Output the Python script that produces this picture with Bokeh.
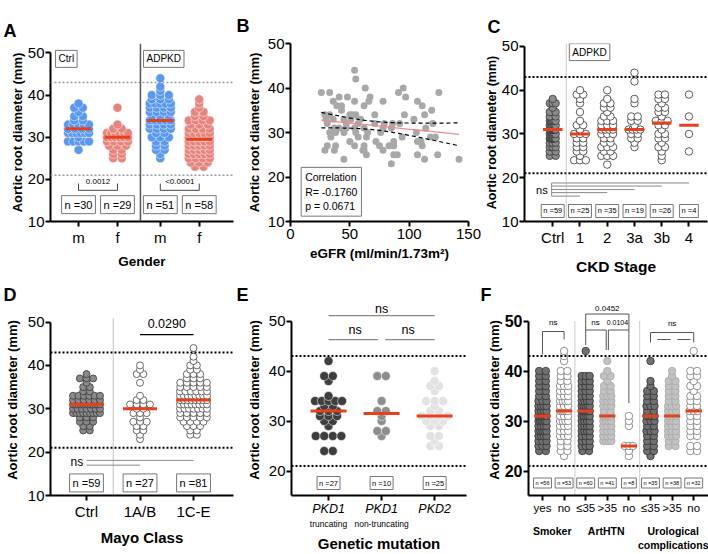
import numpy as np
from collections import Counter
from bokeh.plotting import figure
from bokeh.models import FixedTicker, Label, Span, Title, LinearAxis
from bokeh.layouts import row, column
from bokeh.embed import file_html
from bokeh.resources import INLINE

FONT = "Liberation Sans"
RED = "#e8401c"

# ======================= DATA =======================
# Aortic root diameter (mm) -> number of subjects
# Panel A (Gender)
a_ticks = ["m", "f", "m", "f"]
a_ctrl_m = {38: 1, 37: 2, 36: 1, 35: 2, 34: 2, 33: 5, 32: 4, 31: 6, 30: 1, 29: 5, 27: 1}
a_ctrl_f = {37: 1, 33: 1, 32: 2, 31: 6, 30: 6, 29: 4, 28: 3, 27: 2, 26: 2, 25: 2}
a_adpkd_m = {44: 1, 42: 1, 41: 1, 40: 3, 39: 3, 38: 5, 37: 4, 36: 4, 35: 3, 34: 5, 33: 4,
             32: 4, 31: 2, 30: 3, 29: 2, 28: 2, 27: 2, 26: 1, 25: 1}
a_adpkd_f = {39: 1, 38: 1, 37: 1, 36: 2, 35: 2, 34: 4, 33: 3, 32: 4, 31: 5, 30: 6, 29: 5,
             28: 5, 27: 5, 26: 5, 25: 4, 24: 3, 23: 2}
a_n = ["n =30", "n =29", "n =51", "n =58"]
a_pvals = ["0.0012", "<0.0001"]

# Panel B (eGFR vs aortic root diameter)
b_egfr = [54, 55, 63, 95, 26, 33, 91, 125, 48, 67, 97, 41, 36, 54, 78, 107, 66, 39, 43, 62,
          111, 43, 119, 50, 52, 55, 71, 96, 113, 33, 29, 30, 36, 45, 51, 59, 104, 57, 71, 79,
          86, 92, 120, 31, 47, 37, 41, 47, 54, 62, 78, 85, 114, 33, 38, 45, 55, 65, 76, 106,
          122, 34, 57, 64, 94, 118, 50, 72, 87, 107, 110, 31, 38, 54, 62, 75, 83, 87, 29, 37,
          61, 62, 78, 111, 64, 87, 90, 107, 124, 45, 113, 142, 85]
b_diam = [44, 42, 40, 40, 39, 39, 39, 39, 38, 38, 38, 38, 37, 37, 37, 37, 37, 36, 36, 36,
          36, 35, 35, 34, 34, 34, 34, 34, 34, 34, 34, 33, 33, 33, 33, 33, 33, 32, 32, 32,
          32, 32, 32, 32, 32, 31, 31, 31, 31, 31, 31, 31, 31, 30, 30, 30, 30, 30, 30, 30,
          29, 29, 29, 29, 29, 29, 28, 28, 28, 28, 28, 27, 27, 27, 27, 27, 27, 27, 26, 26,
          26, 26, 26, 27, 25, 25, 25, 25, 25, 24, 24, 24, 23]
b_stats = "Correlation\nR= -0.1760\np = 0.0671"
b_ticks = [0, 50, 100, 150]

# Panel C (CKD stage)
c_ticks = ["Ctrl", "1", "2", "3a", "3b", "4"]
c_ctrl = dict(Counter(a_ctrl_m) + Counter(a_ctrl_f))
c_s1 = {40: 1, 39: 2, 38: 1, 37: 1, 35: 1, 33: 1, 32: 2, 31: 1, 30: 3, 29: 2, 28: 2, 27: 2,
        26: 2, 25: 1, 24: 3}
c_s2 = {40: 1, 38: 1, 37: 2, 36: 2, 35: 1, 34: 2, 33: 3, 32: 3, 31: 4, 30: 3, 29: 2, 28: 2,
        27: 3, 26: 2, 25: 3, 23: 1}
c_s3a = {44: 1, 42: 1, 38: 1, 37: 1, 34: 2, 33: 2, 32: 1, 31: 4, 30: 2, 29: 2, 28: 1, 27: 1}
c_s3b = {39: 2, 38: 2, 37: 1, 36: 2, 35: 2, 34: 1, 33: 3, 32: 2, 31: 1, 30: 2, 29: 2, 28: 1,
         27: 2, 26: 1, 25: 1, 24: 1}
c_s4 = {39: 1, 34: 1, 30: 1, 26: 1}
c_n = ["n =59", "n =25", "n =35", "n =19", "n =26", "n =4"]

# Panel D (Mayo class)
d_ticks = ["Ctrl", "1A/B", "1C-E"]
d_ctrl = c_ctrl
d_1ab = {40: 1, 39: 1, 38: 2, 36: 1, 33: 1, 32: 2, 31: 4, 30: 2, 29: 3, 28: 1, 27: 3, 26: 2,
         25: 2, 24: 1, 23: 1}
d_1ce = {44: 1, 42: 1, 41: 1, 40: 2, 39: 2, 38: 3, 37: 3, 36: 5, 35: 5, 34: 6, 33: 8, 32: 8,
         31: 8, 30: 7, 29: 5, 28: 5, 27: 4, 26: 3, 25: 2, 24: 2}
d_n = ["n =59", "n =27", "n =81"]
d_pval = "0.0290"

# Panel E (genetic mutation)
e_ticks = ["PKD1", "PKD1", "PKD2"]
e_sub = ["truncating", "non-truncating", " "]
e_trunc = {42: 1, 39: 2, 38: 1, 35: 1, 34: 5, 33: 2, 32: 3, 31: 3, 30: 2, 29: 1, 27: 4, 24: 2}
e_nontrunc = {39: 2, 34: 1, 32: 2, 31: 1, 30: 1, 28: 2, 27: 1}
e_pkd2 = {40: 1, 38: 1, 37: 2, 36: 1, 34: 3, 33: 1, 32: 2, 31: 4, 30: 3, 29: 2, 27: 2, 26: 1,
          25: 2}
e_n = ["n =27", "n =10", "n =25"]

# Panel F (smoker / arterial hypertension / urological complications)
f_ticks = ["yes", "no", "≤35", ">35", "no", "≤35", ">35", "no"]
f_titles = ["Smoker", "ArtHTN", "Urological\ncomplications"]
f_smk_yes = {40: 2, 39: 2, 38: 2, 37: 2, 36: 2, 35: 2, 34: 3, 33: 4, 32: 4, 31: 6, 30: 6,
             29: 4, 28: 5, 27: 4, 26: 3, 25: 3, 24: 2}
f_smk_no = {44: 1, 43: 1, 42: 1, 40: 2, 39: 2, 38: 2, 37: 3, 36: 3, 35: 3, 34: 4, 33: 3,
            32: 5, 31: 3, 30: 4, 29: 3, 28: 3, 27: 3, 26: 2, 25: 2, 24: 2, 23: 1}
f_htn_le35 = {44: 1, 39: 3, 38: 3, 37: 3, 36: 3, 35: 3, 34: 4, 33: 5, 32: 7, 31: 5, 30: 4,
              29: 4, 28: 4, 27: 3, 26: 3, 25: 3, 24: 2}
f_htn_gt35 = {42: 1, 40: 1, 39: 2, 38: 1, 37: 2, 36: 2, 35: 3, 34: 3, 33: 3, 32: 2, 31: 4,
              30: 4, 29: 3, 28: 3, 27: 3, 26: 4}
f_htn_no = {31: 1, 30: 1, 29: 1, 25: 3, 24: 1, 23: 1}
f_uro_le35 = {42: 1, 38: 1, 37: 1, 36: 2, 35: 2, 34: 2, 33: 3, 32: 2, 31: 4, 30: 3, 29: 2,
              28: 3, 27: 2, 26: 2, 25: 2, 24: 2, 23: 1}
f_uro_gt35 = {40: 1, 39: 1, 38: 2, 37: 2, 36: 2, 35: 2, 34: 2, 33: 3, 32: 3, 31: 3, 30: 4,
              29: 3, 28: 3, 27: 3, 26: 2, 25: 2}
f_uro_no = {44: 1, 40: 2, 39: 2, 38: 1, 37: 2, 36: 1, 35: 2, 34: 2, 33: 2, 32: 3, 31: 2,
            30: 2, 29: 2, 28: 2, 27: 2, 25: 2, 24: 2}
f_n = ["n =56", "n =53", "n =60", "n =41", "n =8", "n =35", "n =38", "n =32"]
f_pvals = ["ns", "0.0452", "ns", "0.0104", "ns"]

YTITLE = "Aortic root diameter (mm)"


# ======================= HELPERS =======================
def expand(d):
    out = []
    for v in sorted(d):
        out += [v] * d[v]
    return out


def swarm(d, center, ppu, dot, max_w):
    xs, ys = [], []
    for v in sorted(d):
        k = d[v]
        step = dot * 0.95
        if k > 1:
            step = min(step, (max_w - dot) / (k - 1))
        for i in range(k):
            xs.append(center + (i - (k - 1) / 2) * step / ppu)
            ys.append(v)
    return xs, ys


def base_fig(w, h, bl, br, bt, bb, xr, yr, letter, ldx=0, ysoff=0):
    p = figure(width=w, height=h, x_range=xr, y_range=yr, title=None,
               output_backend="svg", toolbar_location=None,
               min_border_left=bl, min_border_right=br,
               min_border_top=bt, min_border_bottom=bb)
    p.title = Title(text=letter, align="left", offset=-bl + ldx,
                    standoff=max(bt - 27, 0), text_font=FONT, text_font_size="18px",
                    text_font_style="bold", text_color="black")
    p.outline_line_color = None
    p.xgrid.visible = False
    p.ygrid.visible = False
    for ax in (p.xaxis[0], p.yaxis[0]):
        ax.axis_line_width = 2
        ax.axis_line_color = "black"
        ax.major_tick_line_width = 2
        ax.major_tick_out = 5
        ax.major_tick_in = 0
        ax.minor_tick_line_color = None
        ax.major_label_text_font = FONT
        ax.major_label_text_color = "black"
        ax.major_label_standoff = 2
        ax.axis_label_text_font = FONT
        ax.axis_label_text_font_style = "bold"
        ax.axis_label_text_color = "black"
    p.yaxis[0].major_label_text_font_size = "15px"
    p.xaxis[0].major_label_text_font_size = "15px"
    p.yaxis[0].major_label_standoff = 1
    p.yaxis[0].axis_label = YTITLE
    p.yaxis[0].axis_label_text_font_size = "13px"
    p.yaxis[0].axis_label_standoff = ysoff
    return p


def txt(p, x, y, text, size, align="center", baseline="middle", style="normal",
        color="black", box=False, pad=2, border="#777"):
    kw = {}
    if box:
        kw = dict(border_line_color=border, border_line_width=1,
                  background_fill_color="white", padding=pad)
    p.add_layout(Label(x=x, y=y, text=text, text_font=FONT, text_font_size=f"{size}px",
                       text_align=align, text_baseline=baseline, text_font_style=style,
                       text_color=color, **kw))


def set_xticks(p, pos, labels):
    p.xaxis[0].ticker = FixedTicker(ticks=list(pos))
    p.xaxis[0].major_label_overrides = {float(k): v for k, v in zip(pos, labels)}


def xtitle(p, text, size, standoff):
    p.xaxis[0].axis_label = text
    p.xaxis[0].axis_label_text_font_size = f"{size}px"
    p.xaxis[0].axis_label_standoff = standoff


def hline(p, y, color="black", dash="2 2", width=2):
    p.add_layout(Span(location=y, dimension="width", line_color=color, line_dash=dash,
                      line_width=width))


def median_line(p, d, center, ppu, hw, width=3):
    m = float(np.median(expand(d)))
    p.segment(x0=[center - hw / ppu], x1=[center + hw / ppu], y0=[m], y1=[m],
              line_color=RED, line_width=width)


def segs(p, pts, color="#777", width=1, dash="solid"):
    x0, y0, x1, y1 = zip(*pts)
    p.segment(x0=list(x0), y0=list(y0), x1=list(x1), y1=list(y1), line_color=color,
              line_width=width, line_dash=dash)


def sub_axis(p, ticks, labels, size, style="normal", standoff=0, title=None, tsoff=1):
    ax = LinearAxis(ticker=FixedTicker(ticks=list(ticks)),
                    major_label_overrides={float(k): v for k, v in zip(ticks, labels)},
                    axis_line_color=None, major_tick_line_color=None,
                    minor_tick_line_color=None, major_tick_out=0, major_tick_in=0,
                    major_label_standoff=standoff, major_label_text_font=FONT,
                    major_label_text_font_size=f"{size}px",
                    major_label_text_font_style=style, major_label_text_color="black")
    if title:
        ax.axis_label = title
        ax.axis_label_text_font = FONT
        ax.axis_label_text_font_style = "bold"
        ax.axis_label_text_font_size = "15px"
        ax.axis_label_text_color = "black"
        ax.axis_label_standoff = tsoff
    p.add_layout(ax, "below")
    return ax


# ======================= PANEL A =======================
W, H, BL, BR, BT, BB = 236, 277, 50, 3, 33, 56
xr = (0.28, 4.98)
pA = base_fig(W, H, BL, BR, BT, BB, xr, (10, 52.25), "A", 3, 0)
fw = W - BL - BR
ppu = fw / (xr[1] - xr[0])
a_pos = [1, 2, 3.1, 4.1]
pA.yaxis.ticker = FixedTicker(ticks=[10, 20, 30, 40, 50])
pA.yaxis.bounds = (10, 50)
set_xticks(pA, a_pos, a_ticks)
xtitle(pA, "Gender", 13.5, 5)
hline(pA, 43, "#9a9a9a", "2 2", 1.5)
hline(pA, 21, "#9a9a9a", "2 2", 1.5)
pA.add_layout(Span(location=2.59, dimension="height", line_color="#555", line_width=1.5))
cols = ["#5a98ef", "#e5857d", "#5a98ef", "#e5857d"]
for d, c, col in zip([a_ctrl_m, a_ctrl_f, a_adpkd_m, a_adpkd_f], a_pos, cols):
    xs, ys = swarm(d, c, ppu, 9, 30)
    pA.scatter(xs, ys, size=9, fill_color=col, line_color="white", line_width=0.6,
               line_alpha=0.8)
    median_line(pA, d, c, ppu, 13)
for (c1, c2), pv in zip([(a_pos[0], a_pos[1]), (a_pos[2], a_pos[3])], a_pvals):
    segs(pA, [(c1, 17.4, c2, 17.4), (c1, 17.4, c1, 19.0), (c2, 17.4, c2, 19.0)], "#444", 1)
    txt(pA, (c1 + c2) / 2, 19.4, pv, 8)
for c, t in zip(a_pos, a_n):
    txt(pA, c, 14, t, 11, box=True, pad=3)
txt(pA, 0.41, 48.6, "Ctrl", 10, align="left", box=True, pad=3)
txt(pA, 2.67, 48.6, "ADPKD", 10, align="left", box=True, pad=3)

# ======================= PANEL B =======================
W, H, BL, BR, BT, BB = 245, 277, 54, 13, 43, 56
pB = base_fig(W, H, BL, BR, BT, BB, (0, 150), (10, 50), "B", 0, 3)
pB.yaxis.ticker = FixedTicker(ticks=[10, 20, 30, 40, 50])
pB.xaxis.ticker = FixedTicker(ticks=b_ticks)
xtitle(pB, "eGFR (ml/min/1.73m²)", 13.5, 4)
pB.scatter(b_egfr, b_diam, size=7, fill_color="#a8a8a8", line_color=None)
bx = np.array(b_egfr, float)
by = np.array(b_diam, float)
slope, icpt = np.polyfit(bx, by, 1)
xs = np.linspace(bx.min(), bx.max(), 60)
yhat = icpt + slope * xs
n = len(bx)
res = by - (icpt + slope * bx)
s = np.sqrt((res ** 2).sum() / (n - 2))
sxx = ((bx - bx.mean()) ** 2).sum()
se = s * np.sqrt(1 / n + (xs - bx.mean()) ** 2 / sxx)
tcrit = 1.986
pB.line(xs, yhat, line_color="#f08a8a", line_width=1.3)
pB.line(xs, yhat + tcrit * se, line_color="black", line_dash="4 3", line_width=1.2)
pB.line(xs, yhat - tcrit * se, line_color="black", line_dash="4 3", line_width=1.2)
txt(pB, 9, 11.2, b_stats, 10.5, align="left", baseline="bottom", box=True, pad=4)

# ======================= PANEL C =======================
W, H, BL, BR, BT, BB = 227, 277, 38, 1, 40, 56
xr = (-0.036, 6.68)
pC = base_fig(W, H, BL, BR, BT, BB, xr, (10, 50.67), "C", 1, 0)
fw = W - BL - BR
ppu = fw / (xr[1] - xr[0])
c_pos = [1, 2, 3, 4, 5, 6]
pC.yaxis.ticker = FixedTicker(ticks=[10, 20, 30, 40, 50])
pC.yaxis.bounds = (10, 50)
pC.yaxis.axis_label_text_font_size = "12.5px"
set_xticks(pC, c_pos, c_ticks)
xtitle(pC, "CKD Stage", 15.5, 9)
hline(pC, 43)
hline(pC, 21)
pC.add_layout(Span(location=1.5, dimension="height", line_color="#aaa", line_dash="1 1",
                   line_width=1.2))
for i, (d, c) in enumerate(zip([c_ctrl, c_s1, c_s2, c_s3a, c_s3b, c_s4], c_pos)):
    if i == 0:
        xs, ys = swarm(d, c, ppu, 7, 13)
        pC.scatter(xs, ys, size=7.5, fill_color="#8a8a8a", line_color="#3a3a3a",
                   line_width=0.8)
    else:
        xs, ys = swarm(d, c, ppu, 7, 19)
        pC.scatter(xs, ys, size=7.5, fill_color="white", line_color="#333", line_width=0.8)
    median_line(pC, d, c, ppu, 10)
ns_y = [18.8, 18.1, 17.3, 16.6, 15.8]
ns_end = [6, 5, 4, 3, 2]
segs(pC, [(0.96, y, e, y) for y, e in zip(ns_y, ns_end)] + [(0.96, 15.8, 0.96, 18.8)],
     "#888", 1)
txt(pC, 0.6, 17.3, "ns", 11)
for c, t in zip(c_pos, c_n):
    txt(pC, c, 12.4, t, 7.5, box=True, pad=2)
txt(pC, 1.61, 48.7, "ADPKD", 10, align="left", box=True, pad=3)

# ======================= ROW 2 (shared borders so frames line up) =======================
H2, BT2, BB2 = 277, 27, 54
fh2 = H2 - BT2 - BB2

# ======================= PANEL D =======================
W, BL, BR = 236, 50, 3
xr = (0.327, 3.747)
pD = base_fig(W, H2, BL, BR, BT2, BB2, xr, (10, 10 + fh2 / 4.45), "D", 3, 5)
fw = W - BL - BR
ppu = fw / (xr[1] - xr[0])
d_pos = [1, 2, 3]
pD.yaxis.ticker = FixedTicker(ticks=[10, 20, 30, 40, 50])
pD.yaxis.bounds = (10, 50)
set_xticks(pD, d_pos, d_ticks)
xtitle(pD, "Mayo Class", 15, 6)
hline(pD, 43)
hline(pD, 21)
segs(pD, [(1.5, 10, 1.5, 51)], "#999", 1.2, "1 1")
for i, (d, c) in enumerate(zip([d_ctrl, d_1ab, d_1ce], d_pos)):
    xs, ys = swarm(d, c, ppu, 7, 34)
    if i == 0:
        pD.scatter(xs, ys, size=7, fill_color="#8a8a8a", line_color="#3a3a3a",
                   line_width=0.8)
    else:
        pD.scatter(xs, ys, size=7, fill_color="white", line_color="#444", line_width=0.8)
    median_line(pD, d, c, ppu, 17)
segs(pD, [(2, 47.1, 3, 47.1)], "black", 1.2)
txt(pD, 2.5, 49.6, d_pval, 12.5)
segs(pD, [(1, 18.1, 3, 18.1), (1, 17.0, 2, 17.0)], "#888", 1)
txt(pD, 0.82, 17.7, "ns", 12)
for c, t in zip(d_pos, d_n):
    txt(pD, c, 12.9, t, 11, box=True, pad=3)

# ======================= PANEL E =======================
W, BL, BR = 244, 55, 14
xr = (0.302, 3.60)
ypu = 5.13
yr = (15.1, 15.1 + fh2 / ypu)
pE = base_fig(W, H2, BL, BR, BT2, BB2, xr, yr, "E", 0, 4)
fw = W - BL - BR
ppu = fw / (xr[1] - xr[0])
e_pos = [1, 2, 3]
pE.yaxis.ticker = FixedTicker(ticks=[20, 30, 40, 50])
pE.yaxis.bounds = (15.1, 50)
set_xticks(pE, e_pos, e_ticks)
pE.xaxis.major_label_text_font_style = "italic"
pE.xaxis.major_label_text_font_size = "12.5px"
pE.xaxis.major_label_standoff = 1
sub_axis(pE, e_pos, e_sub, 8.5, standoff=0, title="Genetic mutation", tsoff=3)
hline(pE, 43)
hline(pE, 21)
for d, c, col in zip([e_trunc, e_nontrunc, e_pkd2], e_pos, ["#3e3e3e", "#8e8e8e", "#e2e2e2"]):
    xs, ys = swarm(d, c, ppu, 9, 36)
    pE.scatter(xs, ys, size=9, fill_color=col, line_color="white", line_width=0.5)
    median_line(pE, d, c, ppu, 18)
segs(pE, [(1, 51.1, 3, 51.1), (1, 46.3, 1.93, 46.3), (2.07, 46.3, 3, 46.3)], "#888", 1.2)
txt(pE, 2, 52.4, "ns", 12.5)
txt(pE, 1.5, 48.2, "ns", 12.5)
txt(pE, 2.5, 48.2, "ns", 12.5)
for c, t in zip(e_pos, e_n):
    txt(pE, c, 17.6, t, 7.5, box=True, pad=2)

# ======================= PANEL F =======================
W, BL, BR = 228, 48, 0
xr = (0.352, 8.685)
pF = base_fig(W, H2, BL, BR, BT2, BB2, xr, yr, "F", 0, 0)
fw = W - BL - BR
ppu = fw / (xr[1] - xr[0])
f_pos = [1, 2, 3, 4, 5, 6, 7, 8]
pF.yaxis.ticker = FixedTicker(ticks=[20, 30, 40, 50])
pF.yaxis.bounds = (15.1, 50)
pF.yaxis.major_label_text_font_style = "bold"
pF.yaxis.major_label_text_font_size = "16px"
set_xticks(pF, f_pos, f_ticks)
pF.xaxis.major_label_text_font_size = "11.5px"
pF.xaxis.major_label_standoff = 1
sub_axis(pF, [1.45, 3.95, 7.1], f_titles, 10.5, style="bold", standoff=8)
hline(pF, 43)
hline(pF, 21)
segs(pF, [(2.5, 15.1, 2.5, 50), (5.5, 15.1, 5.5, 50)], "#999", 1, "1 1")
f_data = [f_smk_yes, f_smk_no, f_htn_le35, f_htn_gt35, f_htn_no, f_uro_le35, f_uro_gt35,
          f_uro_no]
f_style = ["dark", "open", "dark", "light", "open", "dark", "light", "open"]
sty = {"dark": ("#707070", "#333"), "light": ("#c2c2c2", "#a8a8a8"), "open": ("white", "#777")}
for d, c, st in zip(f_data, f_pos, f_style):
    xs, ys = swarm(d, c, ppu, 7, 15)
    fc, lc = sty[st]
    pF.scatter(xs, ys, size=7.5, fill_color=fc, line_color=lc, line_width=0.8)
    median_line(pF, d, c, ppu, 8)
segs(pF, [(1, 47.9, 2, 47.9), (1, 47.9, 1, 43.3), (2, 47.9, 2, 46.3),
          (3, 51.4, 5, 51.4), (3, 51.4, 3, 45.2), (5, 51.4, 5, 33.6),
          (3, 48.2, 3.95, 48.2), (3.95, 48.2, 3.95, 44.2),
          (4.05, 48.2, 5, 48.2), (4.05, 48.2, 4.05, 44.2),
          (6, 47.7, 8, 47.7), (6, 47.7, 6, 45.7), (8, 47.7, 8, 45.7),
          (6.32, 46.3, 6.93, 46.3), (7.25, 46.3, 7.85, 46.3)], "#555", 1)
for (x, y), t, sz in zip([(1.5, 49.8), (4.0, 52.5), (3.45, 49.8), (4.47, 49.8), (7.0, 49.5)],
                         f_pvals, [8, 8, 8, 7, 8]):
    txt(pF, x, y, t, sz)
for c, t in zip(f_pos, f_n):
    txt(pF, c, 17.6, t, 5.5, box=True, pad=2)

layout = column(row(pA, pB, pC), row(pD, pE, pF))
open("out.html", "w").write(file_html(layout, INLINE, title="Aortic root diameter"))
